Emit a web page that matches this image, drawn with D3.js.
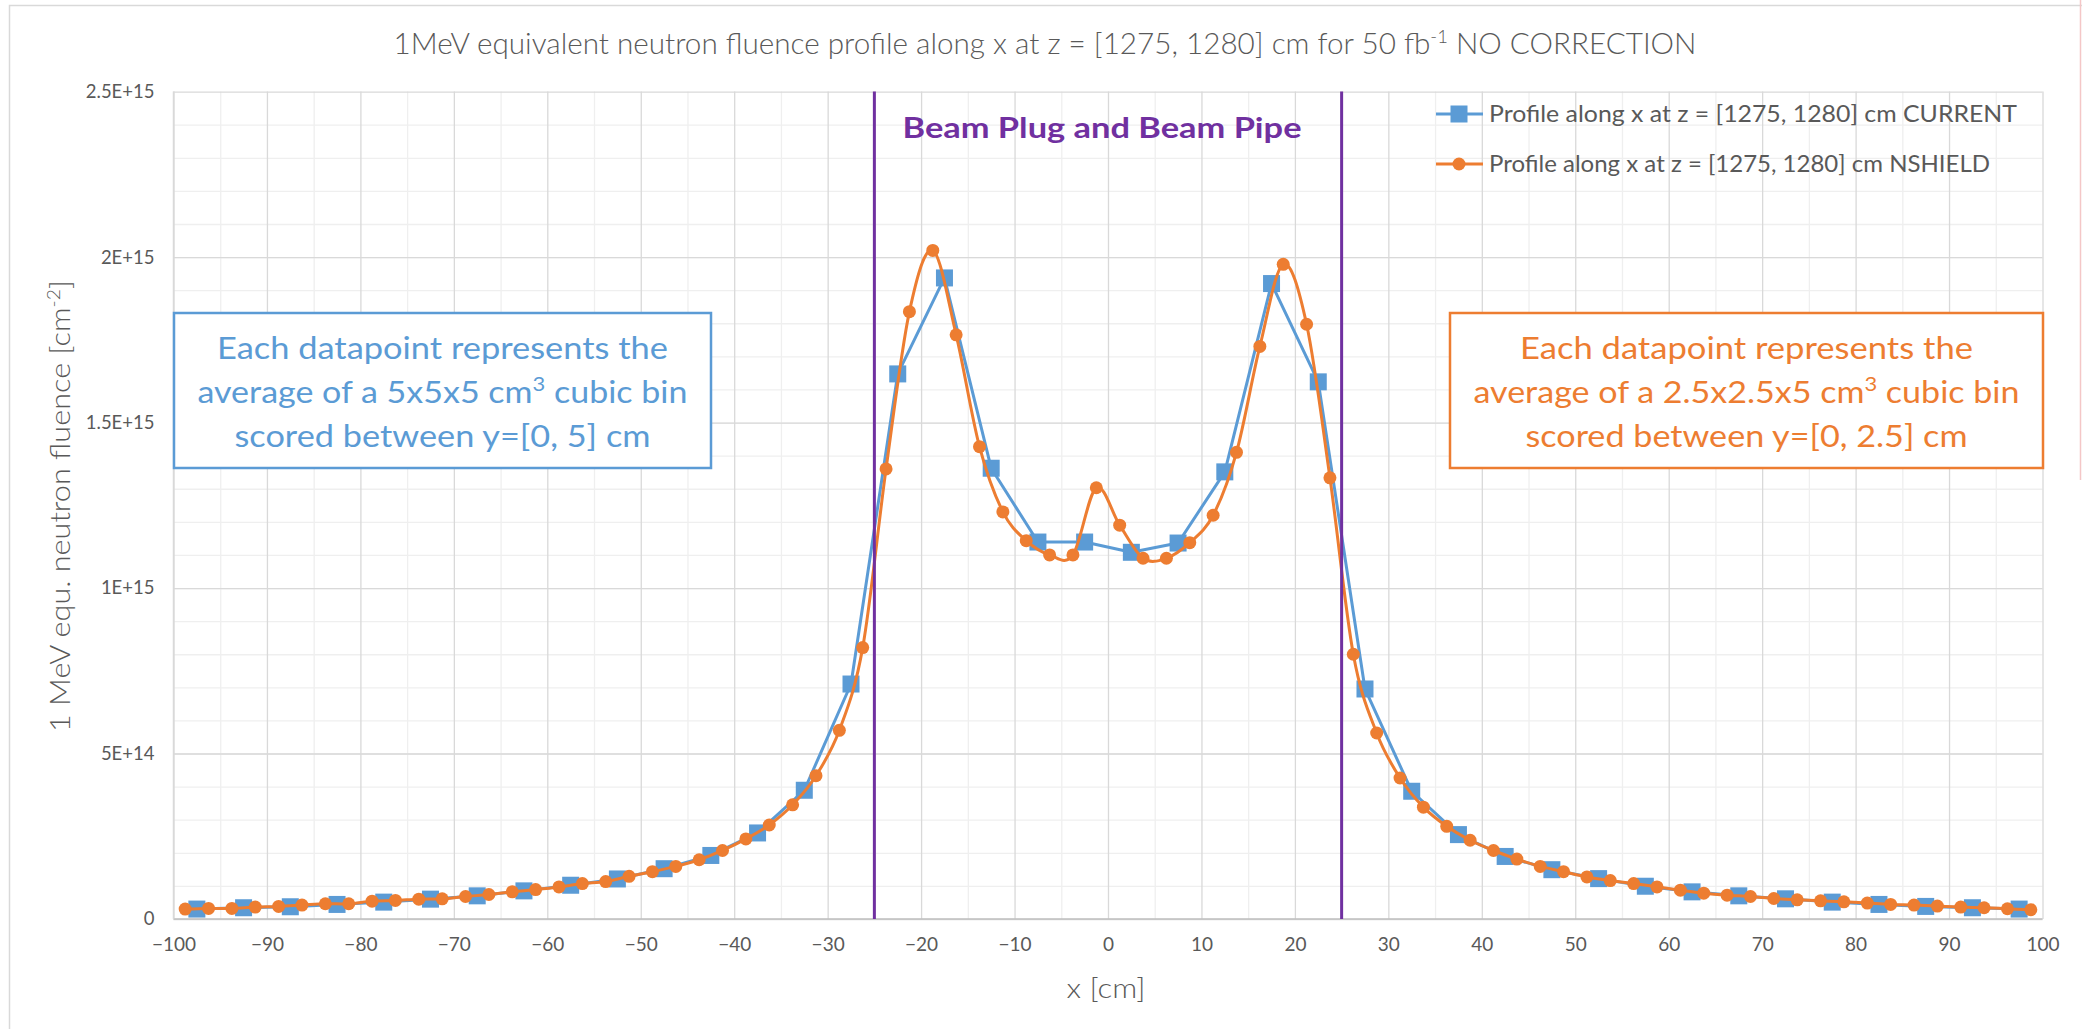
<!DOCTYPE html>
<html>
<head>
<meta charset="utf-8">
<script src="https://cdn.jsdelivr.net/npm/d3@7"></script>
<style>
  body { margin: 0; background: #fff; }
  svg { display: block; }
  text { font-family: Lato, "Open Sans", sans-serif; fill: #595959; }
</style>
</head>
<body>
<svg id="chart" width="2082" height="1029"></svg>
<script>
// CURRENT geometry: 5 cm bins
xCurrent = [-97.5, -92.5, -87.5, -82.5, -77.5, -72.5, -67.5, -62.5, -57.5, -52.5,
  -47.5, -42.5, -37.5, -32.5, -27.5, -22.5, -17.5, -12.5, -7.5, -2.5,
  2.5, 7.5, 12.5, 17.5, 22.5, 27.5, 32.5, 37.5, 42.5, 47.5,
  52.5, 57.5, 62.5, 67.5, 72.5, 77.5, 82.5, 87.5, 92.5, 97.5]
fluenceCurrent = [3.0e13, 3.4e13, 3.7e13, 4.4e13, 5.1e13, 6.0e13, 7.0e13, 8.5e13, 1.02e14, 1.21e14,
  1.52e14, 1.92e14, 2.6e14, 3.89e14, 7.1e14, 1.647e15, 1.937e15, 1.362e15, 1.139e15, 1.139e15,
  1.108e15, 1.136e15, 1.351e15, 1.92e15, 1.623e15, 6.95e14, 3.86e14, 2.55e14, 1.89e14, 1.49e14,
  1.22e14, 9.9e13, 8.2e13, 7.0e13, 6.1e13, 5.1e13, 4.4e13, 3.8e13, 3.4e13, 3.0e13]

// NSHIELD geometry: 2.5 cm bins
xNshield = [-98.75, -96.25, -93.75, -91.25, -88.75, -86.25, -83.75, -81.25, -78.75, -76.25,
  -73.75, -71.25, -68.75, -66.25, -63.75, -61.25, -58.75, -56.25, -53.75, -51.25,
  -48.75, -46.25, -43.75, -41.25, -38.75, -36.25, -33.75, -31.25, -28.75, -26.25,
  -23.75, -21.25, -18.75, -16.25, -13.75, -11.25, -8.75, -6.25, -3.75, -1.25,
  1.25, 3.75, 6.25, 8.75, 11.25, 13.75, 16.25, 18.75, 21.25, 23.75,
  26.25, 28.75, 31.25, 33.75, 36.25, 38.75, 41.25, 43.75, 46.25, 48.75,
  51.25, 53.75, 56.25, 58.75, 61.25, 63.75, 66.25, 68.75, 71.25, 73.75,
  76.25, 78.75, 81.25, 83.75, 86.25, 88.75, 91.25, 93.75, 96.25, 98.75]
fluenceNshield = [3.0e13, 3.2e13, 3.2e13, 3.6e13, 3.8e13, 4.2e13, 4.6e13, 4.6e13, 5.4e13, 5.6e13,
  6.0e13, 6.1e13, 6.8e13, 7.4e13, 8.2e13, 8.9e13, 9.7e13, 1.07e14, 1.13e14, 1.29e14,
  1.43e14, 1.59e14, 1.79e14, 2.07e14, 2.42e14, 2.84e14, 3.45e14, 4.33e14, 5.70e14, 8.2e14,
  1.36e15, 1.835e15, 2.02e15, 1.765e15, 1.427e15, 1.23e15, 1.143e15, 1.10e15, 1.10e15, 1.303e15,
  1.19e15, 1.09e15, 1.09e15, 1.137e15, 1.22e15, 1.41e15, 1.73e15, 1.978e15, 1.797e15, 1.333e15,
  8.0e14, 5.62e14, 4.26e14, 3.38e14, 2.80e14, 2.38e14, 2.07e14, 1.81e14, 1.59e14, 1.43e14,
  1.27e14, 1.16e14, 1.07e14, 9.7e13, 8.7e13, 7.8e13, 7.2e13, 6.8e13, 6.2e13, 5.8e13,
  5.5e13, 5.2e13, 4.8e13, 4.4e13, 4.2e13, 3.9e13, 3.6e13, 3.4e13, 3.1e13, 2.8e13]

xTicks = [-100, -90, -80, -70, -60, -50, -40, -30, -20, -10, 0, 10, 20, 30, 40, 50, 60, 70, 80, 90, 100]
yTicks = [0, 5e14, 1e15, 1.5e15, 2e15, 2.5e15]
yTickLabels = ["0", "5E+14", "1E+15", "1.5E+15", "2E+15", "2.5E+15"]
seriesNames = ["Profile along x at z = [1275, 1280] cm CURRENT", "Profile along x at z = [1275, 1280] cm NSHIELD"]
beamEdges = [-25, 25]

blue = "#5B9BD5"
orange = "#ED7D31"
purple = "#7030A0"

svg = d3.select("#chart")
plotL = 173.5, plotR = 2042.5, plotT = 91.6, plotB = 919

x = d3.scaleLinear().domain([-100, 100]).range([plotL, plotR])
y = d3.scaleLinear().domain([0, 2.5e15]).range([plotB, plotT])

// outer chart border
svg.append("rect").attr("x", 9.5).attr("y", 5.5).attr("width", 2200).attr("height", 1100)
  .attr("fill", "none").attr("stroke", "#D9D9D9").attr("stroke-width", 1.5)
svg.append("line").attr("x1", 2080.5).attr("x2", 2080.5).attr("y1", 0).attr("y2", 480)
  .attr("stroke", "#F4C7C7").attr("stroke-width", 1.5)

// gridlines: minor then major
function grid(axis, cls, color) {
  var g = svg.append("g").attr("class", cls).call(axis)
  g.select(".domain").remove()
  g.selectAll("line").attr("stroke", color).attr("stroke-width", 1.3)
  g.selectAll("text").remove()
  return g
}
grid(d3.axisBottom(x).tickValues(d3.range(-95, 100, 10)).tickSize(-(plotB - plotT)), "gx-minor", "#EFEFEF")
  .attr("transform", `translate(0,${plotB})`)
grid(d3.axisLeft(y).tickValues(d3.range(1e14, 2.5e15, 1e14)).tickSize(-(plotR - plotL)), "gy-minor", "#EFEFEF")
  .attr("transform", `translate(${plotL},0)`)
grid(d3.axisBottom(x).tickValues(xTicks).tickSize(-(plotB - plotT)), "gx-major", "#D9D9D9")
  .attr("transform", `translate(0,${plotB})`)
grid(d3.axisLeft(y).tickValues(yTicks).tickSize(-(plotR - plotL)), "gy-major", "#D9D9D9")
  .attr("transform", `translate(${plotL},0)`)

// axis lines
svg.append("line").attr("x1", plotL).attr("x2", plotR).attr("y1", plotB).attr("y2", plotB)
  .attr("stroke", "#BFBFBF").attr("stroke-width", 1.5)
svg.append("line").attr("x1", plotL).attr("x2", plotL).attr("y1", plotT).attr("y2", plotB)
  .attr("stroke", "#D9D9D9").attr("stroke-width", 1.5)

// tick labels
var xa = svg.append("g").attr("transform", `translate(0,${plotB})`)
  .call(d3.axisBottom(x).tickValues(xTicks).tickSize(0).tickPadding(19))
xa.select(".domain").remove()
xa.selectAll("text").style("font-size", "19px").style("font-family", "Lato, sans-serif").attr("fill", "#595959")

var ya = svg.append("g").attr("transform", `translate(${plotL},0)`)
  .call(d3.axisLeft(y).tickValues(yTicks).tickSize(0).tickPadding(19).tickFormat((d, i) => yTickLabels[i]))
ya.select(".domain").remove()
ya.selectAll("text").style("font-size", "18.5px").style("font-family", "Lato, sans-serif").attr("fill", "#595959")

// data
currentPts = xCurrent.map((d, i) => [d, fluenceCurrent[i]])
nshieldPts = xNshield.map((d, i) => [d, fluenceNshield[i]])

svg.append("path").datum(currentPts)
  .attr("fill", "none").attr("stroke", blue).attr("stroke-width", 3).attr("stroke-linejoin", "round")
  .attr("d", d3.line().x(d => x(d[0])).y(d => y(d[1])))

svg.append("g").selectAll("rect").data(currentPts).join("rect")
  .attr("x", d => x(d[0]) - 8.5).attr("y", d => y(d[1]) - 8.5)
  .attr("width", 17).attr("height", 17).attr("fill", blue)

svg.append("path").datum(nshieldPts)
  .attr("fill", "none").attr("stroke", orange).attr("stroke-width", 3)
  .attr("d", d3.line().curve(d3.curveCatmullRom.alpha(0)).x(d => x(d[0])).y(d => y(d[1])))

svg.append("g").selectAll("circle").data(nshieldPts).join("circle")
  .attr("cx", d => x(d[0])).attr("cy", d => y(d[1])).attr("r", 6.5).attr("fill", orange)

// beam plug / pipe boundaries
svg.append("g").selectAll("line").data(beamEdges).join("line")
  .attr("x1", d => x(d)).attr("x2", d => x(d)).attr("y1", plotT).attr("y2", plotB)
  .attr("stroke", purple).attr("stroke-width", 3)

function fit(t, w) {
  t.attr("textLength", w).attr("lengthAdjust", "spacingAndGlyphs")
}

svg.append("text").attr("x", 1102).attr("y", 138).attr("text-anchor", "middle")
  .style("font-size", "29px").style("font-weight", "bold").style("fill", purple)
  .text("Beam Plug and Beam Pipe").call(fit, 399)

// title
var title = svg.append("text").attr("x", 1045).attr("y", 54).attr("text-anchor", "middle")
  .style("font-size", "29px").style("font-weight", 300)
title.append("tspan").text("1MeV equivalent neutron fluence profile along x at z = [1275, 1280] cm for 50 fb")
title.append("tspan").attr("dy", -11).style("font-size", "18px").text("-1")
title.append("tspan").attr("dy", 11).text(" NO CORRECTION")
title.call(fit, 1303)

// axis titles
var yt = svg.append("text").attr("transform", "translate(70,506) rotate(-90)").attr("text-anchor", "middle")
  .style("font-size", "27px").style("font-weight", 300)
yt.append("tspan").text("1 MeV equ. neutron fluence [cm")
yt.append("tspan").attr("dy", -10).style("font-size", "17px").text("-2")
yt.append("tspan").attr("dy", 10).text("]")
yt.call(fit, 452)

svg.append("text").attr("x", 1106).attr("y", 998).attr("text-anchor", "middle")
  .style("font-size", "27px").style("font-weight", 300).text("x [cm]").call(fit, 79)

// legend
var leg = svg.append("g")
seriesNames.forEach((name, i) => {
  var ly = 114 + i * 50
  var g = leg.append("g")
  var c = i == 0 ? blue : orange
  g.append("line").attr("x1", 1436).attr("x2", 1483).attr("y1", ly).attr("y2", ly)
    .attr("stroke", c).attr("stroke-width", 3)
  if (i == 0) g.append("rect").attr("x", 1459 - 8.5).attr("y", ly - 8.5).attr("width", 17).attr("height", 17).attr("fill", c)
  else g.append("circle").attr("cx", 1459).attr("cy", ly).attr("r", 6.5).attr("fill", c)
  g.append("text").attr("x", 1489).attr("y", ly + 8).style("font-size", "23px")
    .text(name).call(fit, i == 0 ? 528 : 501)
})

// annotation boxes
boxLeft = [["Each datapoint represents the"], ["average of a 5x5x5 cm", "3", " cubic bin"], ["scored between y=[0, 5] cm"]]
boxRight = [["Each datapoint represents the"], ["average of a 2.5x2.5x5 cm", "3", " cubic bin"], ["scored between y=[0, 2.5] cm"]]

function noteBox(lines, widths, x0, x1, color) {
  svg.append("rect").attr("x", x0).attr("y", 313).attr("width", x1 - x0).attr("height", 155)
    .attr("fill", "#fff").attr("stroke", color).attr("stroke-width", 2.5)
  lines.forEach((parts, i) => {
    var t = svg.append("text").attr("x", (x0 + x1) / 2).attr("y", 359 + i * 44)
      .attr("text-anchor", "middle").style("font-size", "31px").style("fill", color)
    t.append("tspan").text(parts[0])
    if (parts.length > 1) {
      t.append("tspan").attr("dy", -12).style("font-size", "20px").text(parts[1])
      t.append("tspan").attr("dy", 12).text(parts[2])
    }
    t.call(fit, widths[i])
  })
}
noteBox(boxLeft, [451, 490, 416], 174, 711, blue)
noteBox(boxRight, [453, 546, 442], 1450, 2043, orange)
</script>
</body>
</html>
